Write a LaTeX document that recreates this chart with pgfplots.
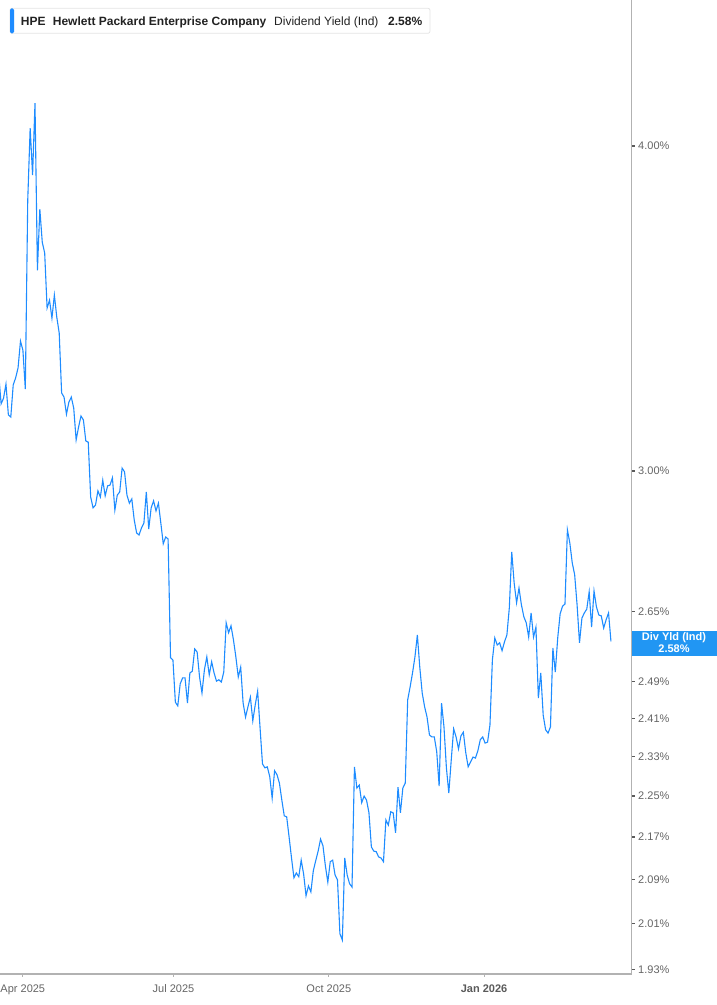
\documentclass[border=0pt]{standalone}
\usepackage{pgfplots}
\pgfplotsset{compat=1.18}
\usepackage{fontspec}
\setmainfont{Liberation Sans}
\definecolor{lineblue}{RGB}{30,140,255}
\definecolor{tagblue}{RGB}{33,150,243}
\definecolor{axgray}{RGB}{178,178,178}
\definecolor{lblgray}{RGB}{100,100,100}
\definecolor{tickdark}{RGB}{90,90,90}
\definecolor{txtdark}{RGB}{34,34,34}
\definecolor{boxgray}{RGB}{228,228,228}

\pgfplotstableread{
t v
0 3.269
1 3.184
2 3.200
3 3.240
4 3.153
5 3.147
6 3.238
7 3.258
8 3.287
9 3.366
10 3.339
11 3.226
12 3.813
13 4.064
14 3.899
15 4.155
16 3.584
17 3.783
18 3.674
19 3.639
20 3.466
21 3.490
22 3.435
23 3.506
24 3.438
25 3.390
26 3.215
27 3.203
28 3.155
29 3.189
30 3.203
31 3.172
32 3.084
33 3.119
34 3.150
35 3.139
36 3.081
37 3.078
38 2.932
39 2.904
40 2.911
41 2.948
42 2.932
43 2.976
44 2.935
45 2.961
46 2.963
47 2.982
48 2.898
49 2.937
50 2.945
51 3.008
52 2.998
53 2.937
54 2.916
55 2.927
56 2.873
57 2.840
58 2.835
59 2.853
60 2.865
61 2.945
62 2.850
63 2.904
64 2.922
65 2.896
66 2.916
67 2.865
68 2.813
69 2.830
70 2.825
71 2.543
72 2.538
73 2.445
74 2.437
75 2.485
76 2.498
77 2.498
78 2.443
79 2.509
80 2.513
81 2.563
82 2.556
83 2.500
84 2.465
85 2.516
86 2.545
87 2.505
88 2.534
89 2.509
90 2.491
91 2.494
92 2.489
93 2.511
94 2.623
95 2.600
96 2.616
97 2.584
98 2.545
99 2.500
100 2.522
101 2.443
102 2.413
103 2.435
104 2.456
105 2.405
106 2.439
107 2.469
108 2.390
109 2.315
110 2.307
111 2.309
112 2.289
113 2.246
114 2.301
115 2.293
116 2.276
117 2.242
118 2.211
119 2.209
120 2.170
121 2.130
122 2.093
123 2.102
124 2.095
125 2.126
126 2.100
127 2.060
128 2.078
129 2.067
130 2.106
131 2.125
132 2.143
133 2.166
134 2.153
135 2.115
136 2.085
137 2.123
138 2.126
139 2.098
140 2.089
141 1.992
142 1.981
143 2.130
144 2.098
145 2.082
146 2.076
147 2.309
148 2.266
149 2.272
150 2.237
151 2.250
152 2.242
153 2.217
154 2.151
155 2.143
156 2.142
157 2.132
158 2.130
159 2.123
160 2.203
161 2.193
162 2.219
163 2.217
164 2.178
165 2.268
166 2.217
167 2.266
168 2.276
169 2.450
170 2.478
171 2.509
172 2.545
173 2.595
174 2.522
175 2.465
176 2.435
177 2.413
178 2.375
179 2.371
180 2.371
181 2.340
182 2.270
183 2.443
184 2.392
185 2.307
186 2.256
187 2.323
188 2.388
189 2.371
190 2.346
191 2.373
192 2.381
193 2.338
194 2.309
195 2.319
196 2.329
197 2.327
198 2.342
199 2.365
200 2.371
201 2.358
202 2.360
203 2.396
204 2.538
205 2.588
206 2.572
207 2.577
208 2.559
209 2.579
210 2.595
211 2.658
212 2.793
213 2.717
214 2.670
215 2.705
216 2.665
217 2.637
218 2.623
219 2.590
220 2.646
221 2.590
222 2.613
223 2.454
224 2.509
225 2.417
226 2.386
227 2.379
228 2.392
229 2.565
230 2.511
231 2.588
232 2.644
233 2.662
234 2.667
235 2.848
236 2.815
237 2.766
238 2.737
239 2.665
240 2.577
241 2.634
242 2.646
243 2.655
244 2.696
245 2.613
246 2.698
247 2.660
248 2.641
249 2.639
250 2.611
251 2.630
252 2.646
253 2.580
}\divyield

\begin{document}
\begin{tikzpicture}
\path[use as bounding box] (0pt,0pt) rectangle (717pt,1005pt);
\begin{axis}[
  at={(0pt,31pt)}, anchor=south west,
  scale only axis, width=631.7pt, height=974pt,
  xmin=0.537, xmax=261.57,
  ymode=log, ymin=1.9223, ymax=4.552,
  axis x line*=bottom, axis y line*=right,
  axis line style={axgray, line width=1.3pt},
  xtick={9.96,72.23,136.41,200.54},
  xticklabels={Apr 2025,Jul 2025,Oct 2025,{\textcolor{tickdark}{\bfseries Jan 2026}}},
  ytick={1.93,2.01,2.09,2.17,2.25,2.33,2.41,2.49,2.65,3,4},
  yticklabels={1.93\%,2.01\%,2.09\%,2.17\%,2.25\%,2.33\%,2.41\%,2.49\%,2.65\%,3.00\%,4.00\%},
  minor tick length=0pt,
  x tick style={axgray, line width=1pt},
  y tick style={tickdark, line width=1.2pt},
  tick align=outside,
  major tick length=3pt,
  x tick label style={font=\fontsize{11}{13}\selectfont, text=lblgray, yshift=-4pt},
  y tick label style={font=\fontsize{11}{13}\selectfont, text=lblgray, anchor=west},
]
\addplot[lineblue, line width=1.1pt, mark=none] table[x=t, y=v] {\divyield};
\end{axis}
% legend box
\draw[boxgray, fill=white, rounded corners=2pt, line width=0.8pt] (10pt,971.7pt) rectangle (430pt,996.7pt);
\fill[lineblue, rounded corners=1.5pt] (10pt,971.7pt) rectangle (14pt,996.7pt);
\node[anchor=base west, inner sep=0pt, font=\fontsize{12}{14}\selectfont\bfseries, text=txtdark] at (20.7pt,979.7pt) {HPE};
\node[anchor=base west, inner sep=0pt, font=\fontsize{12}{14}\selectfont\bfseries, text=txtdark] at (52.7pt,979.7pt) {Hewlett Packard Enterprise Company};
\node[anchor=base west, inner sep=0pt, font=\fontsize{12}{14}\selectfont, text=txtdark] at (274pt,979.7pt) {Dividend Yield (Ind)};
\node[anchor=base west, inner sep=0pt, font=\fontsize{12}{14}\selectfont\bfseries, text=txtdark] at (388pt,979.7pt) {2.58\%};
% value tag
\fill[tagblue] (631.7pt,349.3pt) rectangle (717pt,374.3pt);
\node[inner sep=0pt, font=\fontsize{11}{12}\selectfont\bfseries, text=white] at (674pt,367.3pt) {Div Yld (Ind)};
\node[inner sep=0pt, font=\fontsize{11}{12}\selectfont\bfseries, text=white] at (674pt,356.7pt) {2.58\%};
\end{tikzpicture}
\end{document}
